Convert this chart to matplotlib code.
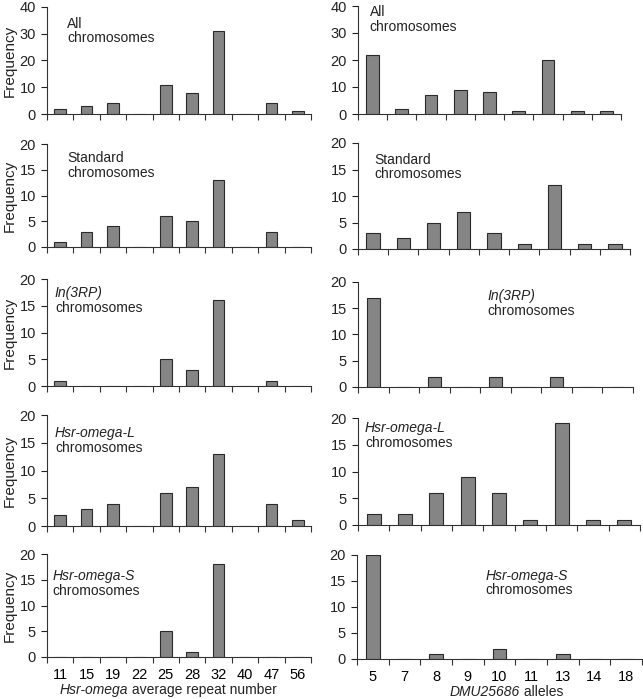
import numpy as np
import matplotlib.pyplot as plt

plt.rcParams['font.family'] = ['Liberation Sans', 'DejaVu Sans']
plt.rcParams['font.size'] = 10

repeat_labels = ['11', '15', '19', '22', '25', '28', '32', '40', '47', '56']
allele_labels = ['5', '7', '8', '9', '10', '11', '13', '14', '18']

# frequencies, left column (Hsr-omega repeat number)
rep_all = [2, 3, 4, 0, 11, 8, 31, 0, 4, 1]
rep_standard = [1, 3, 4, 0, 6, 5, 13, 0, 3, 0]
rep_in3rp = [1, 0, 0, 0, 5, 3, 16, 0, 1, 0]
rep_hsr_l = [2, 3, 4, 0, 6, 7, 13, 0, 4, 1]
rep_hsr_s = [0, 0, 0, 0, 5, 1, 18, 0, 0, 0]

# frequencies, right column (DMU25686 alleles)
dmu_all = [22, 2, 7, 9, 8, 1, 20, 1, 1]
dmu_standard = [3, 2, 5, 7, 3, 1, 12, 1, 1]
dmu_in3rp = [17, 0, 2, 0, 2, 0, 2, 0, 0]
dmu_hsr_l = [2, 2, 6, 9, 6, 1, 19, 1, 1]
dmu_hsr_s = [20, 0, 1, 0, 2, 0, 1, 0, 0]

group_names = ['All', 'Standard', 'In(3RP)', 'Hsr-omega-L', 'Hsr-omega-S']
group_italic = [False, False, True, True, True]
left_data = [rep_all, rep_standard, rep_in3rp, rep_hsr_l, rep_hsr_s]
right_data = [dmu_all, dmu_standard, dmu_in3rp, dmu_hsr_l, dmu_hsr_s]

W, H = 643, 699
# pixel boxes (x0, x1, ytop, ybottom)
left_boxes = [(47, 311, 7, 114), (47, 311, 144, 247), (47, 311, 279, 386),
              (47, 311, 415, 526), (47, 311, 554, 657)]
right_boxes = [(358, 621, 6, 114), (358, 630, 143, 249), (358, 633, 282, 387),
               (358, 640, 418, 525), (357, 642, 555, 659)]
left_text = [(0.076, 0.91), (0.076, 0.93), (0.03, 0.93), (0.03, 0.90), (0.02, 0.85)]
right_text = [(0.045, 1.01), (0.06, 0.91), (0.47, 0.93), (0.025, 0.97), (0.45, 0.87)]


def draw_panel(ax, labels, values, ymax, step, name, italic, tpos, bottom, ylab):
    x = np.arange(len(labels))
    ax.bar(x, values, width=0.44, color='#858585', edgecolor='#2a2a2a', linewidth=0.8)
    ax.set_xlim(-0.5, len(labels) - 0.5)
    ax.set_ylim(0, ymax)
    ax.set_yticks(np.arange(0, ymax + 1, step))
    ax.set_xticks(np.arange(len(labels) + 1) - 0.5)
    ax.set_xticklabels([])
    ax.set_xticks(x, minor=True)
    ax.tick_params(axis='x', which='minor', length=0, labelsize=10.5, pad=8)
    ax.tick_params(axis='x', which='major', length=4, direction='out', width=0.8, colors='#333333')
    ax.tick_params(axis='y', length=4, width=0.8, labelsize=10.5, pad=4, colors='#222222')
    if bottom:
        ax.set_xticklabels(labels, minor=True)
    else:
        ax.set_xticklabels([], minor=True)
    for s in ['top', 'right']:
        ax.spines[s].set_visible(False)
    for s in ['left', 'bottom']:
        ax.spines[s].set_color('#333333')
        ax.spines[s].set_linewidth(0.8)
    ax.text(tpos[0], tpos[1], name, transform=ax.transAxes, va='top', ha='left',
            fontsize=10, style='italic' if italic else 'normal', color='#222222')
    ax.annotate('chromosomes', xy=tpos, xycoords='axes fraction', xytext=(0, -10.5),
                textcoords='offset points', va='top', ha='left', fontsize=10, color='#222222')
    if ylab:
        ax.set_ylabel('Frequency', fontsize=11, color='#222222')
        ax.yaxis.set_label_coords(-0.115, 0.5)


fig = plt.figure(figsize=(W / 100, H / 100), dpi=100)
for i in range(5):
    for boxes, labels, data, tpos, col in [(left_boxes, repeat_labels, left_data, left_text, 0),
                                           (right_boxes, allele_labels, right_data, right_text, 1)]:
        x0, x1, yt, yb = boxes[i]
        ax = fig.add_axes([x0 / W, 1 - yb / H, (x1 - x0) / W, (yb - yt) / H])
        ymax, step = (40, 10) if i == 0 else (20, 5)
        draw_panel(ax, labels, data[i], ymax, step, group_names[i], group_italic[i],
                   tpos[i], i == 4, col == 0)
        if i == 4 and col == 0:
            ax.text(0.307, -0.25, 'Hsr-omega', transform=ax.transAxes, ha='right', va='top',
                    fontsize=10, style='italic', color='#222222')
            ax.text(0.307, -0.25, ' average repeat number', transform=ax.transAxes, ha='left',
                    va='top', fontsize=10, color='#222222')
        if i == 4 and col == 1:
            ax.text(0.572, -0.25, 'DMU25686', transform=ax.transAxes, ha='right', va='top',
                    fontsize=10, style='italic', color='#222222')
            ax.text(0.572, -0.25, ' alleles', transform=ax.transAxes, ha='left',
                    va='top', fontsize=10, color='#222222')

fig.savefig('out.png', dpi=100)
